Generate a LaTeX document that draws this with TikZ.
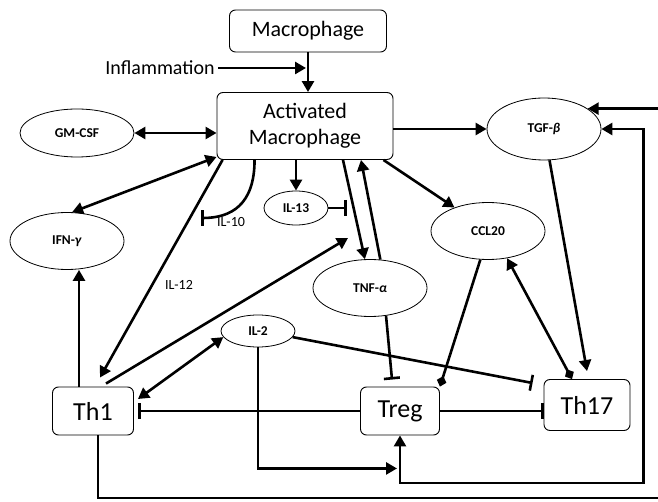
\documentclass[tikz,border=0pt]{standalone}
\usepackage{fontspec}
\setmainfont{Carlito}
\usetikzlibrary{shapes.geometric,arrows.meta}
\tikzset{
  cell/.style={draw,rounded corners=6pt,line width=0.9pt,inner sep=0pt,align=center},
  cyto/.style={draw,ellipse,line width=0.8pt,inner sep=0pt,font=\fontsize{13.5}{15}\selectfont\bfseries},
  lbl/.style={font=\fontsize{14}{16}\selectfont},
  lnk/.style={line width=2.6pt},
  act/.style={lnk,-{Triangle[length=11pt,width=12pt]}},
  biact/.style={lnk,{Triangle[length=11pt,width=12pt]}-{Triangle[length=11pt,width=12pt]}},
  inh/.style={lnk,-{Bar[width=16pt]}},
  dia/.style={lnk,-{Diamond[length=11pt,width=10pt]}},
  actdia/.style={lnk,{Triangle[length=11pt,width=12pt]}-{Diamond[length=11pt,width=10pt]}},
}
\begin{document}
\begin{tikzpicture}[x=1pt,y=-1pt]
	\useasboundingbox (0,0) rectangle (658,502);
	% cells
	\node[cell,minimum width=157pt,minimum height=42pt,font=\fontsize{22}{26}\selectfont] (mac) at (308,31) {Macrophage};
	\node[font=\fontsize{20}{24}\selectfont] (infl) at (160,68) {Inflammation};
	\node[cell,minimum width=176pt,minimum height=67pt,font=\fontsize{22}{26}\selectfont] (act) at (305,126) {Activated\\Macrophage};
	\node[cell,minimum width=81pt,minimum height=48pt,font=\fontsize{26}{30}\selectfont] (th1) at (93,411) {Th1};
	\node[cell,minimum width=79pt,minimum height=48pt,font=\fontsize{26}{30}\selectfont] (treg) at (400,411) {Treg};
	\node[cell,minimum width=86pt,minimum height=51pt,font=\fontsize{26}{30}\selectfont] (th17) at (587,405) {Th17};
	% cytokines
	\node[cyto,minimum width=114pt,minimum height=48pt] (gmcsf) at (77,133) {GM-CSF};
	\node[cyto,minimum width=114pt,minimum height=57pt] (ifng) at (67,241) {IFN-\textit{γ}};
	\node[cyto,minimum width=64pt,minimum height=34pt] (il13) at (296,208) {IL-13};
	\node[cyto,minimum width=114pt,minimum height=57pt] (tnfa) at (370,288) {TNF-\textit{α}};
	\node[cyto,minimum width=114pt,minimum height=57pt] (ccl20) at (488,231) {CCL20};
	\node[cyto,minimum width=114pt,minimum height=62pt] (tgfb) at (544,129) {TGF-\textit{β}};
	\node[cyto,minimum width=74pt,minimum height=32pt] (il2) at (258,331) {IL-2};
	\node[lbl] (l12) at (179,285) {IL-12};
	\node[lbl] (l10) at (231,222) {IL-10};
	\coordinate (tnfin) at (348,238);
	\coordinate (il13bar) at (347,208);
	\coordinate (il10bar) at (201,218);
	
	% macrophage
	\draw[act] (mac.south) -- (mac.south |- act.north);
	\draw[act] (infl.east) -- ([xshift=-2pt]infl -| mac.south);
	\draw[biact] (gmcsf.east) -- (gmcsf -| act.west);
	\draw[biact] (ifng.80) -- ([yshift=3pt]act.south west);
	\draw[act] ([xshift=6pt]act.south west) -- ([xshift=7pt,yshift=9pt]th1.north);
	\draw[act] ([xshift=13pt,yshift=3pt]th1.north) -- (tnfin);
	\draw[inh] ([xshift=38pt]act.south west) .. controls +(0,45) and +(30,0) .. (il10bar);
	\draw[act] (act.south -| il13) -- (il13);
	\draw[inh] (il13) -- (il13bar);
	\draw[act] ([xshift=38pt]act.south) -- (tnfa.100);
	\draw[act] (tnfa.70) -- ([xshift=56pt]act.south);
	\draw[inh] (tnfa.-60) -- ([xshift=-8pt,yshift=7pt]treg.north);
	\draw[act] ([xshift=-10pt]act.south east) -- (ccl20.145);
	\draw[act] (act.east |- tgfb) -- (tgfb);
	
	% T cells
	\draw[act] ([xshift=-14pt]th1.north) -- ([xshift=-14pt]th1.north |- ifng.south);
	\draw[act] (tgfb.-80) -- ([yshift=8pt]th17.north);
	\draw[dia] (ccl20.-105) -- (treg.north east);
	\draw[actdia] (ccl20.-55) -- ([xshift=-15pt]th17.north);
	\draw[inh] (treg) -- (treg -| th17.west);
	\draw[inh] (treg) -- ([xshift=4pt]treg -| th1.east);
	\draw[biact] (il2.190) -- ([xshift=4pt,yshift=12pt]th1.east);
	\draw[inh] (il2.-10) -- ([xshift=-11pt,yshift=22pt]th17.west);
	\draw[act] (il2.south) |- ([xshift=-3pt,yshift=-33pt]treg.south);
	\draw[biact] (tgfb.east) -- ++(42,0) -- ++(0,354) -| (treg.south);
	\draw[act] ([xshift=5pt]th1.south) |- (661,498) |- (tgfb.25);
	
\end{tikzpicture}
\end{document}
